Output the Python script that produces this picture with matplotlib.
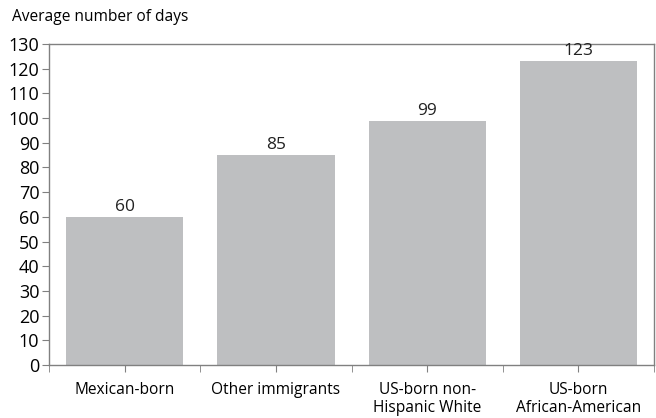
import matplotlib.pyplot as plt
import numpy as np

plt.rcParams['font.family'] = ['Open Sans', 'DejaVu Sans']

groups = ['Mexican-born', 'Other immigrants', 'US-born non-\nHispanic White', 'US-born\nAfrican-American']
days = [60, 85, 99, 123]

fig = plt.figure(figsize=(6.56, 4.18), dpi=100)
ax = fig.add_axes([0.0747, 0.1268, 0.9223, 0.768])

x = np.arange(len(groups))
bars = ax.bar(x, days, width=0.775, color='#bebfc1')
for b, v in zip(bars, days):
    ax.text(b.get_x() + b.get_width() / 2, v + 0.8, str(v), ha='center', va='bottom',
            fontsize=12.5, color='#222222')

ax.set_xlim(-0.5, len(groups) - 0.5)
ax.set_ylim(0, 130)
ax.set_yticks(range(0, 131, 10))
ax.set_xticks(x)
ax.set_xticklabels(groups, fontsize=11.2, linespacing=1.2)
ax.set_xticks(np.arange(-0.5, len(groups)), minor=True)

for s in ax.spines.values():
    s.set_color('#808080')
    s.set_linewidth(1)
ax.tick_params(axis='y', labelsize=13, length=5, color='#808080', pad=2)
ax.tick_params(axis='x', which='both', length=5, color='#808080', pad=7)

fig.text(12 / 656, 1 - 17 / 418, 'Average number of days', fontsize=11.2, va='center', ha='left')

fig.savefig('out.png')
